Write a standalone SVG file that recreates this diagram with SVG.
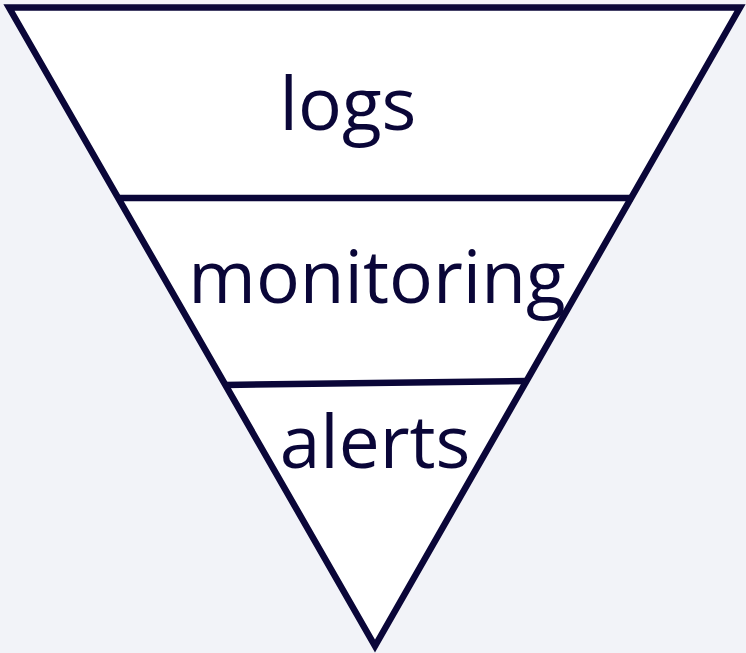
<svg xmlns="http://www.w3.org/2000/svg" width="746" height="653" viewBox="0 0 746 653">
<style>
.edge{fill:none;stroke:#0a0638;stroke-width:6.5;stroke-linecap:butt}
.lbl{font-family:"Open Sans","Noto Sans",sans-serif;font-size:73px;fill:#0a0638;text-anchor:middle}
</style>
<rect width="746" height="653" fill="#f2f3f8"/>
<g id="funnel">
<polygon points="9,7.5 740,7.5 375,646" fill="#ffffff" stroke="#0a0638" stroke-width="6.5" stroke-linejoin="miter"/>
</g>
<g id="connectors">
<line class="edge" x1="117" y1="198" x2="633" y2="198"/>
<line class="edge" x1="225" y1="385" x2="527" y2="381"/>
</g>
<g id="logs"><text class="lbl" x="348" y="130">logs</text></g>
<g id="monitoring"><text class="lbl" x="377" y="303">monitoring</text></g>
<g id="alerts"><text class="lbl" x="375" y="468">alerts</text></g>
</svg>
